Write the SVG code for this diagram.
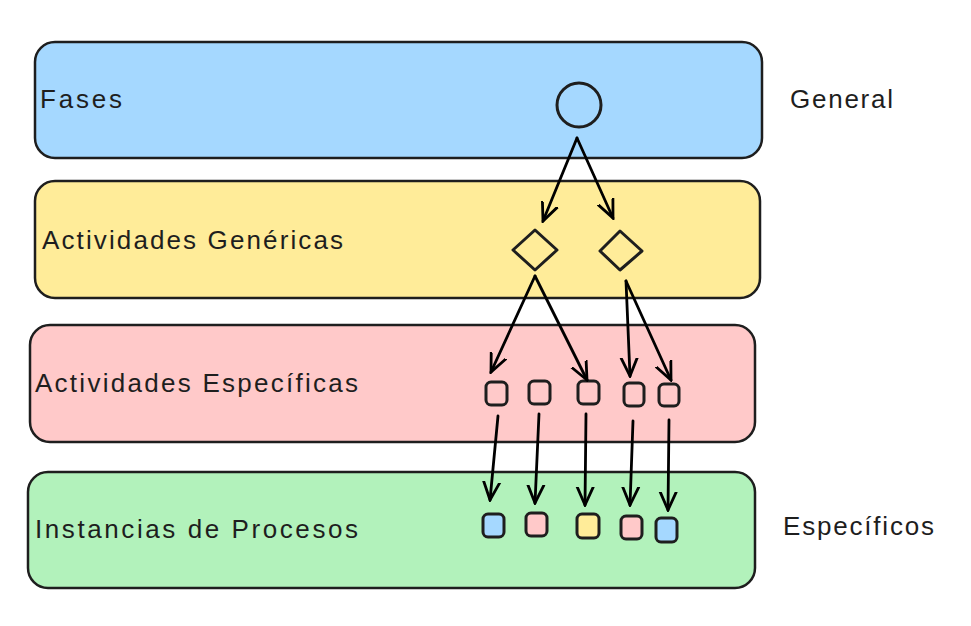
<svg xmlns="http://www.w3.org/2000/svg" width="971" height="626" viewBox="0 0 971 626">
<style>
.band{stroke:#1e1e1e;stroke-width:2.5}
.lbl{font-family:"Liberation Sans",Arial,sans-serif;font-size:26px;fill:#1e1e1e}
.sh{stroke:#1e1e1e;stroke-width:3;stroke-linejoin:round}
.c{stroke:#000;stroke-width:2.8;fill:none;stroke-linecap:round}
</style>
<defs>
<marker id="ah" viewBox="0 0 20 20" refX="18" refY="10" markerWidth="20" markerHeight="20" markerUnits="userSpaceOnUse" orient="auto">
<path d="M0,2 L18,10 L0,18" fill="none" stroke="#000" stroke-width="2.8" stroke-linecap="round"/>
</marker>
</defs>
<g id="band-fases"><rect class="band" x="35" y="42" width="727" height="116" rx="20" fill="#a5d8ff"/><text class="lbl" x="40" y="108" textLength="82">Fases</text></g>
<g id="band-genericas"><rect class="band" x="35" y="181" width="725" height="117" rx="20" fill="#ffec99"/><text class="lbl" x="42" y="249" textLength="301">Actividades Genéricas</text></g>
<g id="band-especificas"><rect class="band" x="30" y="325" width="725" height="117" rx="20" fill="#ffc9c9"/><text class="lbl" x="35" y="392" textLength="323">Actividades Específicas</text></g>
<g id="band-instancias"><rect class="band" x="28" y="472" width="727" height="116" rx="20" fill="#b2f2bb"/><text class="lbl" x="35" y="538" textLength="323">Instancias de Procesos</text></g>
<g id="label-general"><text class="lbl" x="790" y="108" textLength="103">General</text></g>
<g id="label-especificos"><text class="lbl" x="783" y="535" textLength="151">Específicos</text></g>
<g id="circle"><circle class="sh" cx="579" cy="105" r="22" fill="none"/></g>
<g id="diamond1"><path class="sh" d="M535,230 L557,250 L535,270 L513,250 Z" fill="none"/></g>
<g id="diamond2"><path class="sh" d="M620,231 L642,251 L620,270 L600,251 Z" fill="none"/></g>
<g id="sq1"><rect class="sh" x="486" y="382" width="21" height="23" rx="5" fill="none"/></g>
<g id="sq2"><rect class="sh" x="529" y="381" width="21" height="23" rx="5" fill="none"/></g>
<g id="sq3"><rect class="sh" x="578" y="381" width="21" height="23" rx="5" fill="none"/></g>
<g id="sq4"><rect class="sh" x="624" y="383" width="20" height="23" rx="5" fill="none"/></g>
<g id="sq5"><rect class="sh" x="659" y="384" width="20" height="22" rx="5" fill="none"/></g>
<g id="inst1"><rect class="sh" x="483" y="514" width="21" height="23" rx="5" fill="#a5d8ff"/></g>
<g id="inst2"><rect class="sh" x="526" y="513" width="21" height="23" rx="5" fill="#ffc9c9"/></g>
<g id="inst3"><rect class="sh" x="577" y="514" width="22" height="24" rx="5" fill="#ffec99"/></g>
<g id="inst4"><rect class="sh" x="621" y="516" width="21" height="23" rx="5" fill="#ffc9c9"/></g>
<g id="inst5"><rect class="sh" x="656" y="518" width="21" height="24" rx="5" fill="#a5d8ff"/></g>
<g id="connectors">
<line class="c" x1="577" y1="138" x2="543" y2="221" marker-end="url(#ah)"/>
<line class="c" x1="577" y1="138" x2="613" y2="218" marker-end="url(#ah)"/>
<line class="c" x1="535" y1="276" x2="491" y2="372" marker-end="url(#ah)"/>
<line class="c" x1="535" y1="276" x2="587" y2="380" marker-end="url(#ah)"/>
<line class="c" x1="626" y1="281" x2="630" y2="376" marker-end="url(#ah)"/>
<line class="c" x1="626" y1="281" x2="671" y2="380" marker-end="url(#ah)"/>
<line class="c" x1="498" y1="416" x2="490" y2="500" marker-end="url(#ah)"/>
<line class="c" x1="539" y1="414" x2="535" y2="503" marker-end="url(#ah)"/>
<line class="c" x1="586" y1="414" x2="585" y2="505" marker-end="url(#ah)"/>
<line class="c" x1="633" y1="421" x2="630" y2="505" marker-end="url(#ah)"/>
<line class="c" x1="669" y1="420" x2="668" y2="510" marker-end="url(#ah)"/>
</g>
</svg>
